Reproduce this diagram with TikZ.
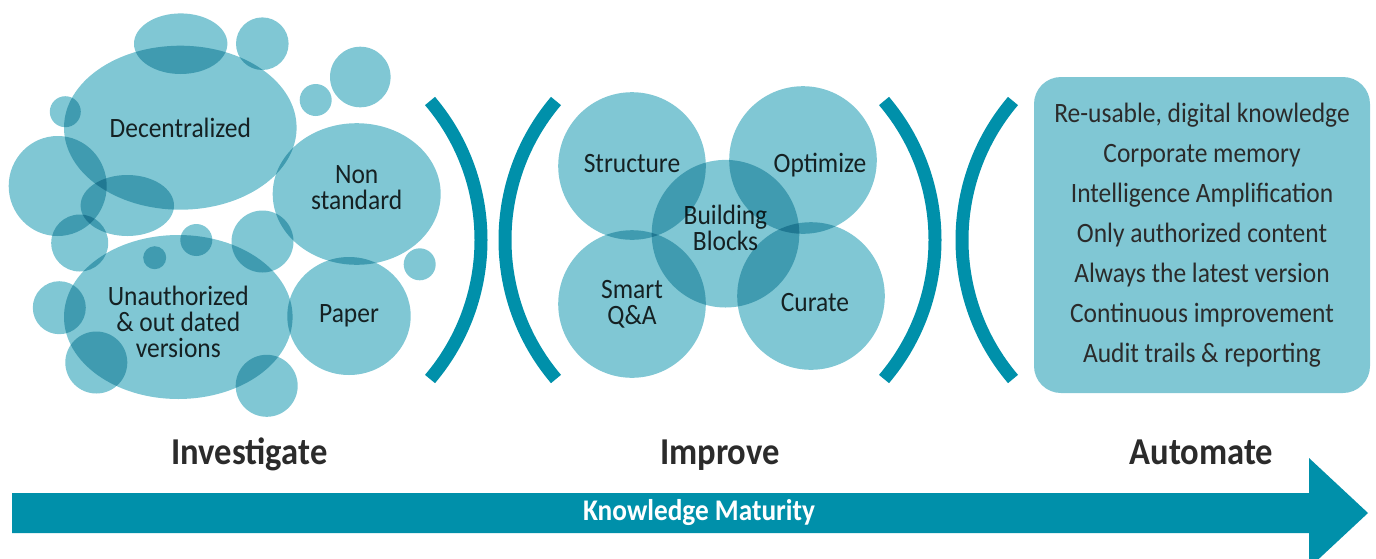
\documentclass[tikz,border=0pt]{standalone}
\usepackage{fontspec}
\setmainfont{Carlito}[FakeStretch=0.91]
\usetikzlibrary{shapes.geometric}

\definecolor{bubblefill}{HTML}{80C7D4}
\definecolor{tealdark}{HTML}{0090AA}
\definecolor{inkgrey}{HTML}{2B2B2B}

\begin{document}
\begin{tikzpicture}[
        x=0.5pt, y=-0.5pt,
        every node/.style={font=\fontsize{14}{13}\selectfont, text=inkgrey, align=center},
        bubble/.style={ellipse, fill=bubblefill, inner sep=0pt, outer sep=0pt},
        bracket/.style={draw=tealdark, line width=6.5pt},
        phase/.style={font=\fontsize{19}{19}\selectfont\bfseries, anchor=base}
    ]
        \useasboundingbox (0,0) rectangle (1376,558);

        % bubbles, the overlaps get darker
        \begin{scope}[blend group=multiply]
            \foreach \x/\y/\w/\h [count=\i] in {180.7/43.7/46.7/30.3, 262.3/43.7/26.3/26.3,
                65.3/111.7/15.5/15.5, 360.3/77/30.3/30.3, 315.7/100/16/16,
                57.7/186/49/50, 127.3/205.5/46.7/30.5, 79.7/243/28.5/28.5,
                154.7/257.7/11.5/11.5, 196.3/240/16/16, 262.5/241.5/31/31,
                59.3/307.7/26.5/26.5, 96.3/362.5/31/31, 266.7/385.8/31/31,
                419.7/264.3/16/16}
                \node[bubble, minimum width={\w pt}, minimum height={\h pt}] (spot\i) at (\x,\y) {};

            \node[bubble, minimum width=116.3pt, minimum height=82pt] (decentral) at (180.3,127.7) {Decentralized};
            \node[bubble, minimum width=84pt, minimum height=70.8pt,
                label={[yshift=3pt]center:{Non\\standard}}] (nonstd) at (356.7,194) {};
            \node[bubble, minimum width=114.3pt, minimum height=82pt,
                label={[yshift=-2.5pt]center:{Unauthorized\\\& out dated\\versions}}] (unauth) at (178.3,317) {};
            \node[bubble, minimum width=61.7pt, minimum height=59pt] (paper) at (349,316) {Paper};

            % building blocks
            \node[bubble, minimum size=73.8pt, label={[yshift=1pt]center:Structure}] (structure) at (632,166) {};
            \node[bubble, minimum size=73.8pt] (smartqa) at (632,304) {Smart\\Q\&A};
            \node[bubble, minimum size=73.8pt, label={[xshift=8.5pt, yshift=-2.5pt]center:Optimize}] (optimize) at (803,160) {};
            \node[bubble, minimum size=73.8pt, label={[xshift=2pt, yshift=-3.5pt]center:Curate}] (curate) at (811,296) {};
            \node[bubble, minimum size=73.8pt, label={[yshift=3pt]center:{Building\\Blocks}}] (blocks) at (725.5,233.7) {};
        \end{scope}

        % brackets between the phases
        \foreach \x/\d in {430/68, 556/-68, 884/68, 1013/-68}
            \draw[bracket] (\x,101) .. controls ({\x+\d},181) and ({\x+\d},299) .. (\x,379);

        \node[fill=bubblefill, rounded corners=13.5pt, minimum width=168pt, minimum height=158pt,
            font=\fontsize{14}{20}\selectfont] (benefits) at (1202,235)
            {Re-usable, digital knowledge\\Corporate memory\\Intelligence Amplification\\Only authorized content\\Always the latest version\\Continuous improvement\\Audit trails \& reporting};

        % phase names
        \node[phase] (investigate) at (249.5,464) {Investigate};
        \node[phase] (improve) at (720,464) {Improve};
        \node[phase] (automate) at (1201.3,464) {Automate};

        % maturity arrow
        \fill[tealdark] (12,493) -- (1309,493) -- (1309,458) -- (1368,513) -- (1309,568) -- (1309,533) -- (12,533) -- cycle;
        \node[font=\fontsize{15}{15}\selectfont\bfseries, text=white] (maturity) at (699,513) {Knowledge Maturity};
    \end{tikzpicture}
\end{document}
